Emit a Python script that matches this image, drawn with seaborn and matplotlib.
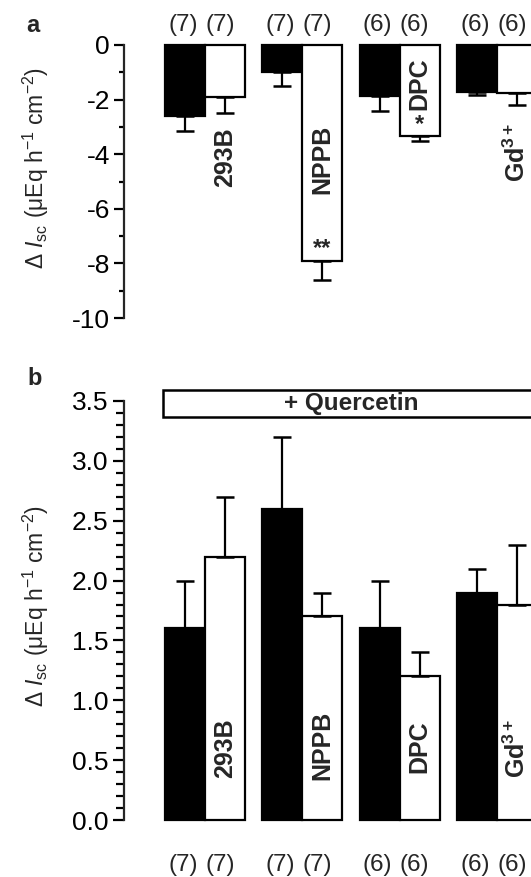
import matplotlib
matplotlib.use("Agg")
import matplotlib.pyplot as plt
import seaborn as sns
import pandas as pd
from matplotlib.patches import Rectangle
from matplotlib.ticker import MultipleLocator

sns.set_theme(style="ticks")
plt.rcParams['font.family'] = ['Liberation Sans', 'DejaVu Sans']
plt.rcParams['axes.unicode_minus'] = False
plt.rcParams['mathtext.fontset'] = 'custom'
plt.rcParams['mathtext.rm'] = 'Liberation Sans'
plt.rcParams['mathtext.it'] = 'Liberation Sans:italic'
plt.rcParams['mathtext.bf'] = 'Liberation Sans:bold'

# ---- data ----
blockers = ["293B", "NPPB", "DPC", "Gd3+"]
blocker_labels = ["293B", "NPPB", "DPC", r"$\mathbf{Gd^{3+}}$"]
conditions = ["before", "after"]

a_before = [-2.6, -1.0, -1.85, -1.72]
a_before_err = [0.55, 0.5, 0.57, 0.1]
a_after = [-1.92, -7.9, -3.33, -1.76]
a_after_err = [0.58, 0.72, 0.17, 0.45]
a_n = [["(7)", "(7)"], ["(7)", "(7)"], ["(6)", "(6)"], ["(6)", "(6)"]]
a_stars = ["", "**", "*", ""]

b_before = [1.6, 2.6, 1.6, 1.9]
b_before_err = [0.4, 0.6, 0.4, 0.2]
b_after = [2.2, 1.7, 1.2, 1.8]
b_after_err = [0.5, 0.2, 0.2, 0.5]
b_n = [["(7)", "(7)"], ["(7)", "(7)"], ["(6)", "(6)"], ["(6)", "(6)"]]

a_yticks = [0, -2, -4, -6, -8, -10]
b_yticks = [0.0, 0.5, 1.0, 1.5, 2.0, 2.5, 3.0, 3.5]

W, H = 531, 877
fig = plt.figure(figsize=(W / 100, H / 100), dpi=100)

def px_axes(left, top, right, bottom):
    return fig.add_axes([left / W, 1 - bottom / H, (right - left) / W, (bottom - top) / H])

axa = px_axes(124, 45, 531, 318)
axb = px_axes(124, 401, 531, 820)

palette = {"before": "black", "after": "white"}

def draw(ax, before, before_err, after, after_err, sign):
    df = pd.DataFrame({
        "blocker": blockers * 2,
        "cond": ["before"] * 4 + ["after"] * 4,
        "val": before + after,
    })
    sns.barplot(data=df, x="blocker", y="val", hue="cond", hue_order=conditions,
                order=blockers, palette=palette, edgecolor="black", linewidth=1.6,
                width=0.822, errorbar=None, legend=False, ax=ax, saturation=1)
    centers = []
    for ci, (vals, errs) in enumerate([(before, before_err), (after, after_err)]):
        cont = ax.containers[ci]
        xs = [p.get_x() + p.get_width() / 2 for p in cont.patches]
        centers.append(xs)
        for p in cont.patches:
            p.set_clip_on(False)
        if sign < 0:
            yerr = [errs, [0] * len(errs)]
        else:
            yerr = [[0] * len(errs), errs]
        ax.errorbar(xs, vals, yerr=yerr, fmt="none", ecolor="black",
                    elinewidth=1.6, capsize=6.5, capthick=1.8, zorder=1)
    return centers

ca = draw(axa, a_before, a_before_err, a_after, a_after_err, -1)
cb = draw(axb, b_before, b_before_err, b_after, b_after_err, 1)

xl = ((124 - 205) / 97.3, (531 - 205) / 97.3)
for ax in (axa, axb):
    ax.set_xlim(*xl)
    ax.set_xticks([])
    ax.set_xlabel("")
    ax.set_ylabel("")
    for s in ("top", "right", "bottom"):
        ax.spines[s].set_visible(False)
    ax.spines["left"].set_linewidth(1.6)
    ax.tick_params(axis="y", which="both", direction="out", width=1.6,
                   labelsize=19, pad=3, color="black", labelcolor="black")

axa.set_ylim(-10, 0)
axa.set_yticks(a_yticks)
axa.set_yticklabels([str(t) for t in a_yticks])
axa.yaxis.set_minor_locator(MultipleLocator(1))
axa.tick_params(axis="y", which="major", length=7)
axa.tick_params(axis="y", which="minor", length=3.5)

axb.set_ylim(0, 3.5)
axb.set_yticks(b_yticks)
axb.set_yticklabels([f"{t:.1f}" for t in b_yticks])
axb.yaxis.set_minor_locator(MultipleLocator(0.1))
axb.tick_params(axis="y", which="major", length=8)
axb.tick_params(axis="y", which="minor", length=5.5)

# counts (second label of each pair sits slightly left of its bar centre)
count_shift = [-0.02, -0.05]
for i in range(4):
    for j in range(2):
        axa.text(ca[j][i] + count_shift[j], 0.72, a_n[i][j], ha="center", va="center",
                 fontsize=17.5, clip_on=False)
        axb.text(cb[j][i] + count_shift[j], -0.375, b_n[i][j], ha="center", va="center",
                 fontsize=17.5, clip_on=False)

# blocker labels
a_lab_y = [-4.1, -4.2, -1.4, -3.95]
b_lab_y = [0.6, 0.62, 0.61, 0.6]
for i in range(4):
    axa.text(ca[1][i], a_lab_y[i], blocker_labels[i], rotation=90, ha="center",
             va="center", fontsize=18, fontweight="bold")
    axb.text(cb[1][i], b_lab_y[i], blocker_labels[i], rotation=90, ha="center",
             va="center", fontsize=18, fontweight="bold")
    if a_stars[i]:
        sy = -7.45 if a_stars[i] == "**" else -2.9
        axa.text(ca[1][i], sy, a_stars[i], ha="center", va="center",
                 fontsize=17, fontweight="bold")

# quercetin box
box_left = cb[0][0] - 0.225
rect = Rectangle((box_left, 3.37), 10, 0.22, facecolor="white", edgecolor="black",
                 linewidth=1.8, clip_on=False)
axb.add_patch(rect)
axb.text(1.5, 3.48, "+ Quercetin", ha="center", va="center", fontsize=17.5,
         fontweight="bold", clip_on=False)

# y labels
ylab = r"$\Delta$ $I_{\rm sc}$ (μEq h$^{-1}$ cm$^{-2}$)"
fig.text(36 / W, 1 - 168 / H, ylab, rotation=90, ha="center", va="center", fontsize=16.5)
fig.text(36 / W, 1 - 606 / H, ylab, rotation=90, ha="center", va="center", fontsize=16.5)

# panel letters
fig.text(33 / W, 1 - 26 / H, "a", ha="center", va="center", fontsize=17, fontweight="bold")
fig.text(35 / W, 1 - 378 / H, "b", ha="center", va="center", fontsize=17, fontweight="bold")

fig.savefig("out.png", dpi=100)
